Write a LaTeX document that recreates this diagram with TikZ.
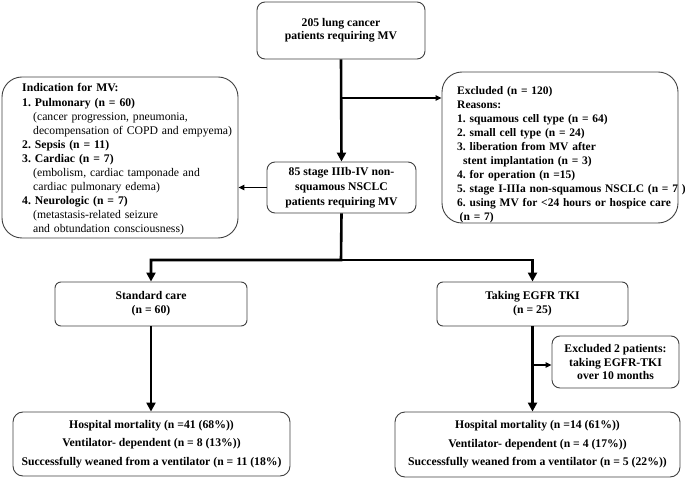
\documentclass[tikz,border=0pt]{standalone}
\usepackage{fontspec}
\setmainfont{Liberation Serif}
\usetikzlibrary{arrows.meta}
\tikzset{
  fbox/.style={draw=black!75, line width=0.9pt, fill=white, align=center, inner sep=0pt},
  txtblk/.style={inner sep=0pt, align=left, text width=240pt, anchor=base west},
  mainarrow/.style={line width=2.6pt, -{Triangle[width=9pt,length=9pt]}},
  sidearrow/.style={line width=1.3pt, -{Triangle[width=5.5pt,length=6pt]}},
}
\newcommand{\fsz}[1]{\fontsize{11.7}{#1}\selectfont\bfseries\frenchspacing}
\begin{document}
\frenchspacing
\begin{tikzpicture}[x=1pt,y=-1pt]
\useasboundingbox (0,0) rectangle (685,478);
% boxes
\node[fbox, rounded corners=8pt, minimum width=168pt, minimum height=57pt, font=\fsz{13}] (top) at (341,30.5) {205 lung cancer\\patients requiring MV};
\node[fbox, rounded corners=8pt, minimum width=149pt, minimum height=51pt, font=\fsz{15}] (box2) at (341.5,187.5) {85 stage IIIb-IV non-\\squamous NSCLC\\patients requiring MV};
\node[fbox, rounded corners=20pt, minimum width=236pt, minimum height=161pt] (ind) at (120,157.5) {};
\node[txtblk, font={\fontsize{11.7}{14.1}\selectfont\frenchspacing}] (indtxt) at (22,92) {%
\textbf{Indication for MV:}\\
\textbf{1. Pulmonary (n = 60)}\\
\hspace*{11pt}(cancer progression, pneumonia,\\
\hspace*{11pt}decompensation of COPD and empyema)\\
\textbf{2. Sepsis (n = 11)}\\
\textbf{3. Cardiac (n = 7)}\\
\hspace*{11pt}(embolism, cardiac tamponade and\\
\hspace*{11pt}cardiac pulmonary edema)\\
\textbf{4. Neurologic (n = 7)}\\
\hspace*{11pt}(metastasis-related seizure\\
\hspace*{11pt}and obtundation consciousness)};
\node[fbox, rounded corners=20pt, minimum width=236pt, minimum height=151pt] (excl) at (560,147.5) {};
\node[txtblk, font={\fontsize{11.5}{14}\selectfont\bfseries\frenchspacing}] (excltxt) at (457,95) {%
Excluded (n = 120)\\
Reasons:\\
1. squamous cell type (n = 64)\\
2. small cell type (n = 24)\\
3. liberation from MV after\\
\hspace*{6pt}stent implantation (n = 3)\\
4. for operation (n =15)\\
5. stage I-IIIa non-squamous NSCLC (n = 7 )\\
6. using MV for <24 hours or hospice care\\
\hspace*{2.5pt}(n = 7)};
\node[fbox, rounded corners=6pt, minimum width=192pt, minimum height=44pt, font=\fsz{14}] (std) at (151,304) {Standard care\\(n = 60)};
\node[fbox, rounded corners=6pt, minimum width=191pt, minimum height=44pt, font=\fsz{14}] (egfr) at (532.5,304) {Taking EGFR TKI\\(n = 25)};
\node[fbox, rounded corners=8pt, minimum width=127pt, minimum height=52pt, font=\fsz{13.5}] (ex2) at (615.5,362) {Excluded 2 patients:\\taking EGFR-TKI\\over 10 months};
\node[fbox, rounded corners=10pt, minimum width=277pt, minimum height=64pt, font=\fsz{18.5}] (resL) at (151.5,444) {Hospital mortality (n =41 (68\%))\\Ventilator- dependent (n = 8 (13\%))\\Successfully weaned from a ventilator (n = 11 (18\%)};
\node[fbox, rounded corners=10pt, minimum width=285pt, minimum height=65pt, font=\fsz{18.5}] (resR) at (537.5,444.5) {Hospital mortality (n =14 (61\%))\\Ventilator- dependent (n = 4 (17\%))\\Successfully weaned from a ventilator (n = 5 (22\%))};
% connectors
\coordinate (exsplit) at (341,98);
\coordinate (split) at (341,260);
\draw[mainarrow] (top.south) -- (box2.north);
\draw[sidearrow] (exsplit) -- (exsplit -| excl.west);
\draw[sidearrow] (box2.west) -- (box2.west -| ind.east);
\draw[mainarrow] (box2.south) -- (split) -| (std.north);
\draw[mainarrow] (split) -| (egfr.north);
\draw[mainarrow] (std.south) -- (std.south |- resL.north);
\draw[mainarrow] (egfr.south) -- (egfr.south |- resR.north);
\draw[sidearrow] ([yshift=-3pt]egfr.south |- ex2.west) -- ([yshift=-3pt]ex2.west);
\end{tikzpicture}
\end{document}
